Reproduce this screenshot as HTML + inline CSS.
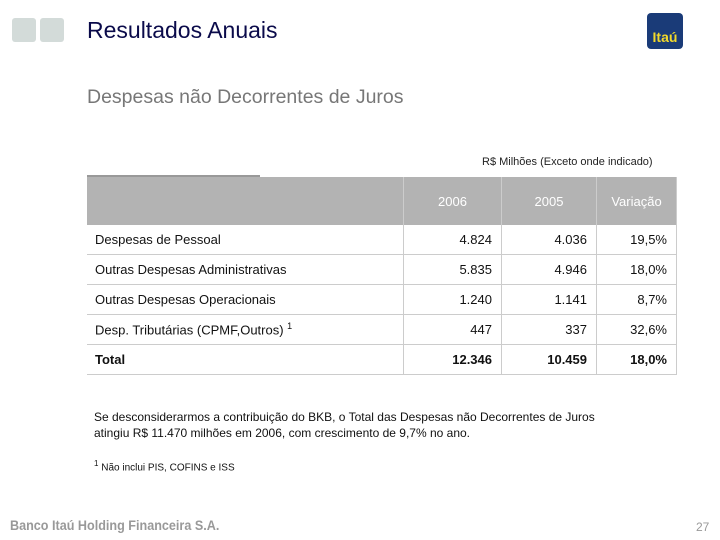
<!DOCTYPE html>
<html><head><meta charset="utf-8"><style>
body{margin:0;width:720px;height:540px;background:#fff;position:relative;overflow:hidden;font-family:"Liberation Sans",sans-serif}
.a{position:absolute;white-space:nowrap}
td{padding:0;font-size:13px;color:#111;height:29px;border-bottom:1px solid #ccc}
.n{text-align:right;padding-right:9px;border-left:1px solid #ccc}
</style></head><body>
<div class="a" style="left:12px;top:18px;width:24px;height:24px;background:#d3dbd9;border-radius:3px"></div>
<div class="a" style="left:40px;top:18px;width:24px;height:24px;background:#d3dbd9;border-radius:3px"></div>
<div class="a" style="left:87px;top:17px;font-size:23px;color:#0a0a4a">Resultados Anuais</div>
<div class="a" style="left:647px;top:13px;width:36px;height:36px;background:#1a3b78;border-radius:4px;color:#f3d92a;font-weight:bold;font-size:14px;line-height:48px;text-align:center">Itaú</div>
<div class="a" style="left:87px;top:86px;font-size:19.5px;color:#777">Despesas não Decorrentes de Juros</div>
<div class="a" style="left:482px;top:156px;font-size:11px;color:#222">R$ Milhões (Exceto onde indicado)</div>
<div class="a" style="left:87px;top:175px;width:173px;height:2px;background:#999"></div>
<table class="a" style="left:87px;top:177px;width:590px;border-collapse:collapse;border-right:1px solid #ccc">
<tr style="background:#b3b3b3;color:#fff">
<td style="height:48px;width:316px;border:none"></td>
<td style="color:#fff;text-align:center;width:97px;border-left:1px solid #ccc;border-bottom:none">2006</td>
<td style="color:#fff;text-align:center;width:94px;border-left:1px solid #ccc;border-bottom:none">2005</td>
<td style="color:#fff;text-align:center;border-left:1px solid #ccc;border-bottom:none">Variação</td></tr>
<tr><td style="padding-left:8px">Despesas de Pessoal</td><td class="n">4.824</td><td class="n">4.036</td><td class="n">19,5%</td></tr>
<tr><td style="padding-left:8px">Outras Despesas Administrativas</td><td class="n">5.835</td><td class="n">4.946</td><td class="n">18,0%</td></tr>
<tr><td style="padding-left:8px">Outras Despesas Operacionais</td><td class="n">1.240</td><td class="n">1.141</td><td class="n">8,7%</td></tr>
<tr><td style="padding-left:8px">Desp. Tributárias (CPMF,Outros) <sup style="font-size:9px">1</sup></td><td class="n">447</td><td class="n">337</td><td class="n">32,6%</td></tr>
<tr><td style="padding-left:8px;font-weight:bold">Total</td><td class="n" style="font-weight:bold">12.346</td><td class="n" style="font-weight:bold">10.459</td><td class="n" style="font-weight:bold">18,0%</td></tr>
</table>
<div class="a" style="left:94px;top:409px;font-size:12px;line-height:16px;color:#111">Se desconsiderarmos a contribuição do BKB, o Total das Despesas não Decorrentes de Juros<br>atingiu R$ 11.470 milhões em 2006, com crescimento de 9,7% no ano.</div>
<div class="a" style="left:94px;top:459px;font-size:10px;color:#111"><sup style="font-size:8px">1</sup> Não inclui PIS, COFINS e ISS</div>
<div class="a" style="left:10px;top:517px;font-size:14px;font-weight:bold;color:#999;transform:scaleX(0.9);transform-origin:left">Banco Itaú Holding Financeira S.A.</div>
<div class="a" style="left:696px;top:520px;font-size:12px;color:#999">27</div>
</body></html>
